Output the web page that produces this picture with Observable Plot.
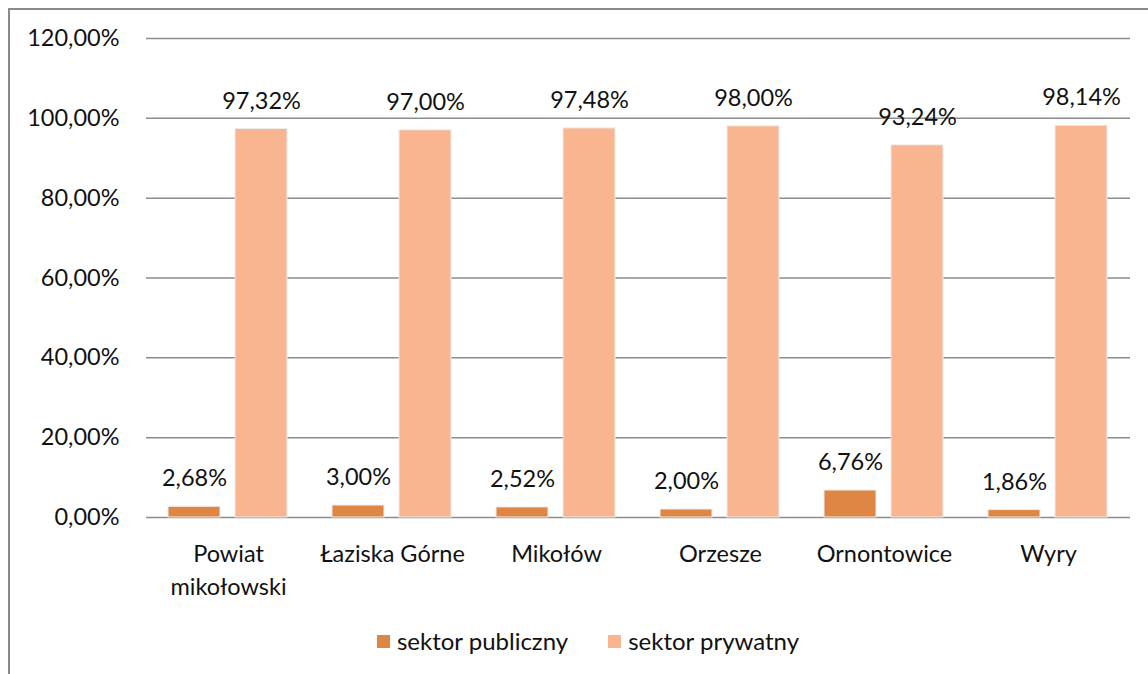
<!DOCTYPE html>
<html><head><meta charset="utf-8">
<script src="https://cdn.jsdelivr.net/npm/d3@7"></script>
<script src="https://cdn.jsdelivr.net/npm/@observablehq/plot@0.6"></script>
<style>
body{margin:0;background:#fff;font-family:Lato,sans-serif;}
#wrap{position:relative;width:1148px;height:674px;overflow:hidden;}
#frame{position:absolute;left:8px;top:8px;width:1200px;height:700px;border-left:2px solid #8a8a8a;border-top:2px solid #8a8a8a;box-sizing:border-box;}
#chart{position:absolute;left:0;top:0;}
#legend{position:absolute;left:14px;top:626px;width:1148px;display:flex;justify-content:center;gap:40px;font-size:24px;color:#111;}
#legend span.sw{display:inline-block;width:13px;height:13px;margin-right:7px;vertical-align:middle;position:relative;top:-2px;}
</style></head>
<body><div id="wrap"><div id="frame"></div><div id="chart"></div><div id="legend"></div></div>
<script>
const categories = ["Powiat\nmikołowski","Łaziska Górne","Mikołów","Orzesze","Ornontowice","Wyry"];
const series = ["sektor publiczny","sektor prywatny"];
const publiczny = [2.68,3.00,2.52,2.00,6.76,1.86];
const prywatny = [97.32,97.00,97.48,98.00,93.24,98.14];
const colors = ["#df8644","#f8b590"];
const yTicks = [0,20,40,60,80,100,120];

const data = [];
categories.forEach((c,i)=>{
  data.push({cat:c, s:series[0], v:publiczny[i]});
  data.push({cat:c, s:series[1], v:prywatny[i]});
});
const fmt = v => v.toFixed(2).replace(".", ",") + "%";

const chart = Plot.plot({
  width:1148, height:600,
  marginLeft:145, marginRight:17, marginTop:38, marginBottom:83,
  style:{fontFamily:"Lato, sans-serif", fontSize:"23.5px", color:"#111", background:"transparent"},
  fx:{domain:categories, padding:0, label:null, axis:null},
  x:{domain:series, paddingInner:0.22, paddingOuter:0.32, axis:null},
  y:{domain:[0,120], ticks:yTicks, label:null},
  color:{domain:series, range:colors},
  marks:[
    Plot.gridY(yTicks, {facetAnchor:null, stroke:"#8c8c8c", strokeOpacity:1, strokeWidth:1.5}),
    Plot.barY(data, {fx:"cat", x:"s", y:"v", fill:"s", stroke:"#ececec", strokeWidth:1}),
    Plot.text(data, {fx:"cat", x:"s", y:"v", text:d=>fmt(d.v), dy:-28, lineAnchor:"middle", fill:"#111"}),
    Plot.axisY(yTicks, {tickSize:0, tickPadding:27, tickFormat:fmt, fill:"#111"}),
    Plot.axisFx({anchor:"bottom", tickSize:0, tickPadding:21, lineHeight:1.4, label:null, fill:"#111"})
  ]
});
document.getElementById("chart").appendChild(chart);

const lg = document.getElementById("legend");
series.forEach((s,i)=>{
  const d = document.createElement("div");
  d.innerHTML = `<span class="sw" style="background:${colors[i]}"></span>${s}`;
  lg.appendChild(d);
});
</script></body></html>
